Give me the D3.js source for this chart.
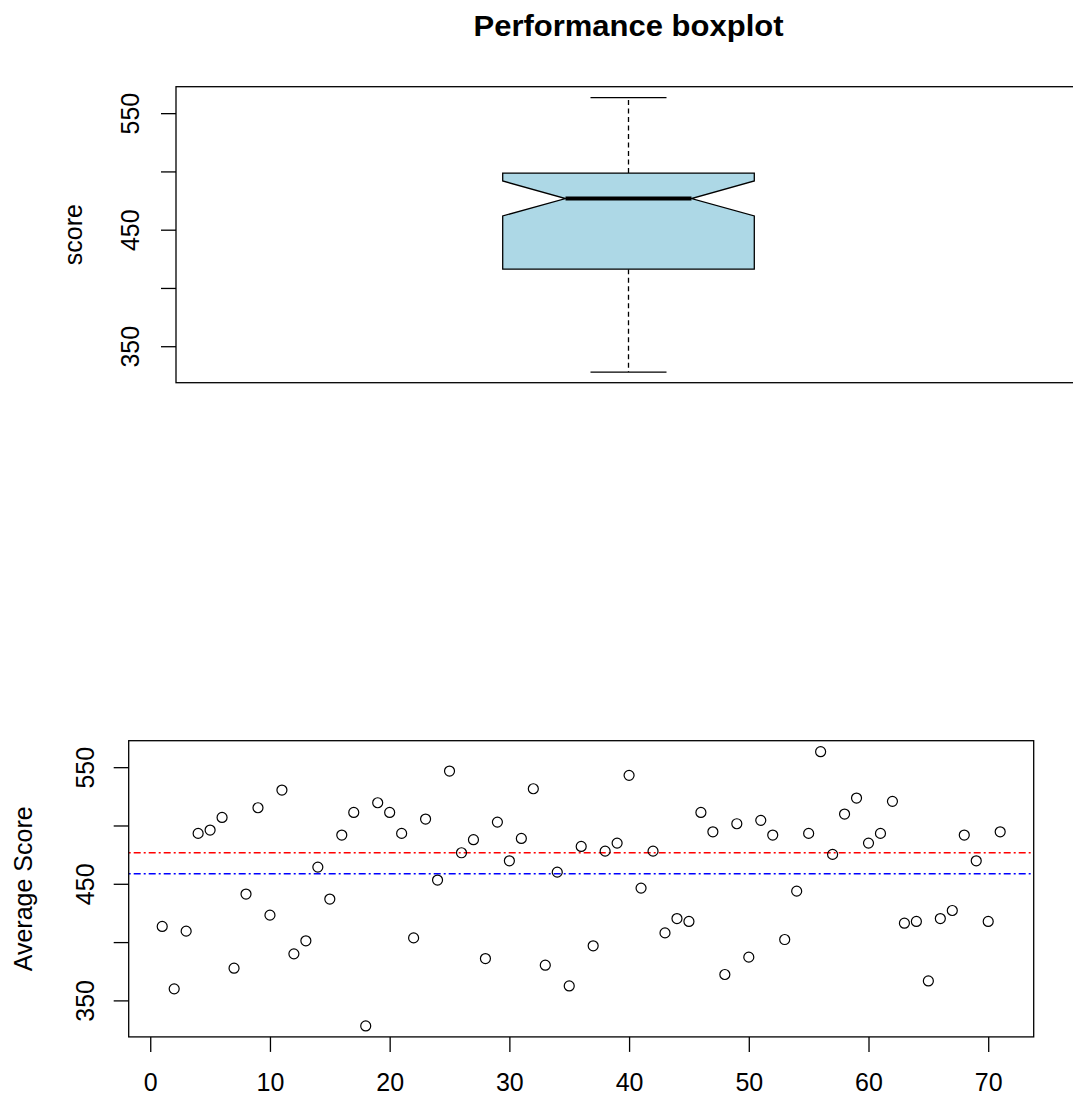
<!DOCTYPE html>
<html><head><meta charset="utf-8">
<script src="https://cdn.jsdelivr.net/npm/d3@7"></script>
<style>
body{margin:0;background:#fff}
svg{display:block}
text{font-family:"Liberation Sans",Arial,Helvetica,sans-serif;fill:#000}
</style>
</head><body>
<svg id="chart" width="1073" height="1097"></svg>
<script>
// ---------- data ----------
const scores = [
  413.4, 359.9, 409.4, 493.2, 496.1, 506.9, 377.6, 441.2, 515.2, 423.1,
  530.4, 389.9, 401.1, 464.3, 436.9, 491.8, 511.2, 328.1, 519.5, 511.2,
  493.2, 403.6, 505.5, 453.2, 546.7, 476.6, 487.8, 385.9, 502.9, 469.7,
  488.9, 531.5, 380.2, 460.0, 362.4, 482.0, 396.8, 478.0, 484.9, 543.0,
  446.3, 478.0, 407.9, 420.2, 417.7, 511.2, 494.6, 372.2, 501.5, 387.1,
  504.4, 491.8, 402.2, 443.7, 493.2, 563.3, 475.2, 509.8, 523.5, 484.9,
  493.2, 520.7, 416.2, 417.7, 366.7, 420.2, 427.1, 491.8, 469.7, 417.7,
  494.6
];
const indexValues = d3.range(1, scores.length + 1);
// boxplot five-number summary: [lower whisker, Q1, median, Q3, upper whisker]
const boxFive = [327.8, 416.1, 476.7, 498.6, 563.3];
const boxNotch = [461.8, 491.8];
const meanScore = 458.6;
const medianScore = 476.6;
const yTicks = [350, 400, 450, 500, 550];
const yTickLabels = ["350", "", "450", "", "550"];
const xTicks = [0, 10, 20, 30, 40, 50, 60, 70];
const xTickLabels = ["0", "10", "20", "30", "40", "50", "60", "70"];
const titleText = "Performance boxplot";
const topYLabel = "score";
const bottomYLabel = "Average Score";

// ---------- layout ----------
const svg = d3.select("#chart");
const FONT = 25;
const ext = d3.extent(scores);
const pad = (ext[1] - ext[0]) * 0.04;
const yDomain = [ext[0] - pad, ext[1] + pad];

const topP = {l: 176, r: 1081, t: 86.7, b: 382.7};
const botP = {l: 128.7, r: 1033.7, t: 740.7, b: 1036.9};

const yTop = d3.scaleLinear().domain(yDomain).range([topP.b, topP.t]);
const yBot = d3.scaleLinear().domain(yDomain).range([botP.b, botP.t]);
const xBox = d3.scaleLinear().domain([0.5, 1.5]).range([topP.l, topP.r]);
const xBot = d3.scaleLinear().domain([1 - 0.04 * 70, 71 + 0.04 * 70]).range([botP.l, botP.r]);

function yAxis(g, scale, x, labelOffset) {
  const ax = d3.axisLeft(scale).tickValues(yTicks).tickSize(15)
    .tickFormat((d, i) => yTickLabels[i]);
  const a = g.append("g").attr("transform", `translate(${x},0)`).call(ax);
  a.select(".domain").remove();
  a.selectAll(".tick line").attr("stroke", "#000").attr("stroke-width", 1.3);
  a.selectAll(".tick text")
    .attr("x", null).attr("dy", null)
    .attr("transform", `translate(${-labelOffset},0) rotate(-90)`)
    .attr("text-anchor", "middle")
    .style("font-size", FONT + "px")
    .style("font-family", '"Liberation Sans",Arial,sans-serif')
    .attr("fill", "#000");
}

// ---------- title ----------
svg.append("text")
  .attr("x", (topP.l + topP.r) / 2).attr("y", 35.7)
  .attr("text-anchor", "middle")
  .attr("textLength", 310).attr("lengthAdjust", "spacingAndGlyphs")
  .style("font-size", "30px").style("font-weight", "bold")
  .text(titleText);

// ---------- top: boxplot ----------
const gt = svg.append("g");
const cx = 1, bw = 0.139, nw = 0.0696, cw = 0.042;
const [wLo, q1, med, q3, wHi] = boxFive;
const [nLo, nHi] = boxNotch;

gt.append("line").attr("x1", xBox(cx)).attr("x2", xBox(cx))
  .attr("y1", yTop(q3)).attr("y2", yTop(wHi))
  .attr("stroke", "#000").attr("stroke-width", 1.3).attr("stroke-dasharray", "5,3.5");
gt.append("line").attr("x1", xBox(cx)).attr("x2", xBox(cx))
  .attr("y1", yTop(q1)).attr("y2", yTop(wLo))
  .attr("stroke", "#000").attr("stroke-width", 1.3).attr("stroke-dasharray", "5,3.5");
[wLo, wHi].forEach(v => {
  gt.append("line").attr("x1", xBox(cx - cw)).attr("x2", xBox(cx + cw))
    .attr("y1", yTop(v)).attr("y2", yTop(v))
    .attr("stroke", "#000").attr("stroke-width", 1.3);
});
const boxPts = [
  [cx - bw, q1], [cx - bw, nLo], [cx - nw, med], [cx - bw, nHi], [cx - bw, q3],
  [cx + bw, q3], [cx + bw, nHi], [cx + nw, med], [cx + bw, nLo], [cx + bw, q1]
];
gt.append("path")
  .attr("d", d3.line().x(d => xBox(d[0])).y(d => yTop(d[1]))(boxPts) + "Z")
  .attr("fill", "#ADD8E6").attr("stroke", "#000").attr("stroke-width", 1.3)
  .attr("stroke-linejoin", "miter");
gt.append("line").attr("x1", xBox(cx - nw)).attr("x2", xBox(cx + nw))
  .attr("y1", yTop(med)).attr("y2", yTop(med))
  .attr("stroke", "#000").attr("stroke-width", 4);

gt.append("rect").attr("x", topP.l).attr("y", topP.t)
  .attr("width", topP.r - topP.l).attr("height", topP.b - topP.t)
  .attr("fill", "none").attr("stroke", "#000").attr("stroke-width", 1.3);
yAxis(gt, yTop, topP.l, 37.5);
gt.append("text")
  .attr("transform", `translate(${topP.l - 94},${(topP.t + topP.b) / 2}) rotate(-90)`)
  .attr("text-anchor", "middle").style("font-size", FONT + "px")
  .text(topYLabel);

// ---------- bottom: scatter ----------
const gb = svg.append("g");
gb.append("line").attr("x1", botP.l).attr("x2", botP.r)
  .attr("y1", yBot(medianScore)).attr("y2", yBot(medianScore))
  .attr("stroke", "#FF0000").attr("stroke-width", 1.5).attr("stroke-dasharray", "2,3,7,3");
gb.append("line").attr("x1", botP.l).attr("x2", botP.r)
  .attr("y1", yBot(meanScore)).attr("y2", yBot(meanScore))
  .attr("stroke", "#0000FF").attr("stroke-width", 1.5).attr("stroke-dasharray", "2,3,7,3");

gb.selectAll("circle.pt").data(scores).enter().append("circle")
  .attr("class", "pt")
  .attr("cx", (d, i) => xBot(indexValues[i]))
  .attr("cy", d => yBot(d))
  .attr("r", 5)
  .attr("fill", "none").attr("stroke", "#000").attr("stroke-width", 1.2);

gb.append("rect").attr("x", botP.l).attr("y", botP.t)
  .attr("width", botP.r - botP.l).attr("height", botP.b - botP.t)
  .attr("fill", "none").attr("stroke", "#000").attr("stroke-width", 1.3);
yAxis(gb, yBot, botP.l, 35);

const xa = gb.append("g").attr("transform", `translate(0,${botP.b})`)
  .call(d3.axisBottom(xBot).tickValues(xTicks).tickSize(15).tickFormat((d, i) => xTickLabels[i]));
xa.select(".domain").remove();
xa.selectAll(".tick line").attr("stroke", "#000").attr("stroke-width", 1.3);
xa.selectAll(".tick text").attr("y", 54.4).attr("dy", null)
  .style("font-size", FONT + "px")
  .style("font-family", '"Liberation Sans",Arial,sans-serif')
  .attr("fill", "#000");

gb.append("text")
  .attr("transform", `translate(${botP.l - 97},${(botP.t + botP.b) / 2}) rotate(-90)`)
  .attr("text-anchor", "middle").style("font-size", FONT + "px")
  .text(bottomYLabel);
</script>
</body></html>
